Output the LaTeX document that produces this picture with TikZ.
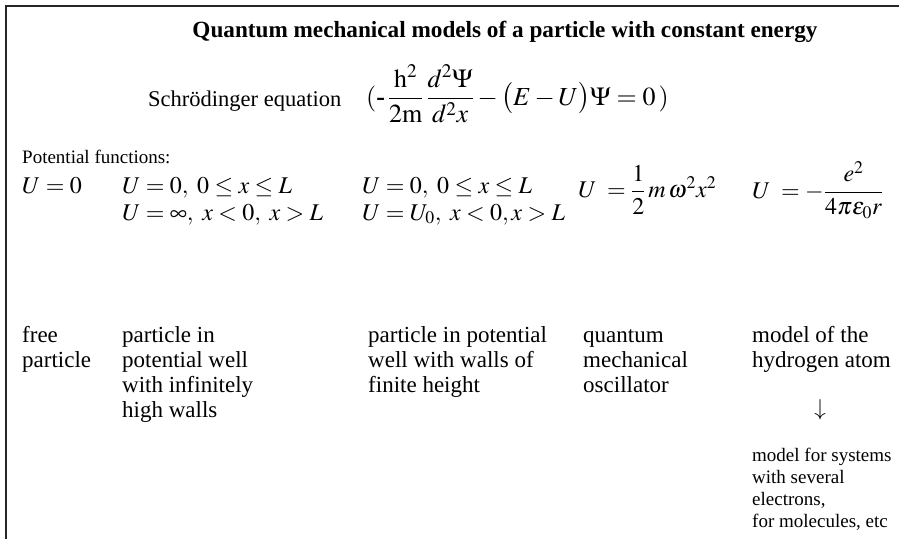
\documentclass[tikz,border=0pt]{standalone}
\usepackage{mathptmx}
\usepackage{fontspec}
\setmainfont{Liberation Serif}
\newcommand{\mlines}[1]{\begin{tabular}[t]{@{}l@{}}#1\end{tabular}}
\begin{document}
\begin{tikzpicture}[x=1pt,y=-1pt,
  txt/.style={anchor=base west, inner sep=0pt, font=\fontsize{23}{25}\selectfont},
  small/.style={anchor=base west, inner sep=0pt, font=\fontsize{19}{22}\selectfont},
  eq/.style={anchor=base west, inner sep=0pt, font=\fontsize{24}{27}\selectfont},
  bigeq/.style={anchor=base west, inner sep=0pt, font=\fontsize{26}{29}\selectfont},
  frame/.style={line width=1.6pt, draw=black!85}]
\useasboundingbox (0,0) rectangle (899,539);
\draw[frame] (6,539) -- (6,6) -- (899,6);
\node[anchor=base, inner sep=0pt, font=\fontsize{23.2}{26}\selectfont\bfseries] (title) at (505,37)
  {Quantum mechanical models of a particle with constant energy};
\node[txt, font=\fontsize{22.5}{25}\selectfont] (schr) at (148,106) {Schrödinger equation};
\node[bigeq] (schreq) at (366,105)
  {$\displaystyle (\textbf{-}\,\frac{\mathrm{h}^2}{2\mathrm{m}}\,\frac{d^2\Psi}{d^2x}-\bigl(E-U\bigr)\Psi=0\,)$};
\node[small] (potf) at (22,163) {Potential functions:};
\node[eq] (u1) at (22,193) {$U=0$};
\node[eq] (u2a) at (122,193) {$U=0,\ 0\le x\le L$};
\node[eq] (u2b) at (122,220) {$U=\infty,\ x<0,\ x>L$};
\node[eq] (u3a) at (362,193) {$U=0,\ 0\le x\le L$};
\node[eq] (u3b) at (362,220) {$U=U_0,\ x<0, x>L$};
\node[eq, anchor=west] (u4) at (578,190) {$\displaystyle U\;=\frac{1}{2}\,m\,\omega^2x^2$};
\node[eq, anchor=west] (u5) at (752,190) {$\displaystyle U\;=-\frac{e^2}{4\pi\varepsilon_0 r}$};
\node[txt] (free) at (22,342) {\mlines{free\\particle}};
\node[txt] (well) at (122,342) {\mlines{particle in\\potential well\\with infinitely\\high walls}};
\node[txt] (finite) at (368,342) {\mlines{particle in potential\\well with walls of\\finite height}};
\node[txt] (osc) at (583,342) {\mlines{quantum\\mechanical\\oscillator}};
\node[txt] (hyd) at (752,342) {\mlines{model of the\\hydrogen atom}};
\node[txt, anchor=base] (arr) at (820,415) {$\downarrow$};
\node[small] (multi) at (752,461) {\mlines{model for systems\\with several\\electrons,\\for molecules, etc}};
\end{tikzpicture}
\end{document}
